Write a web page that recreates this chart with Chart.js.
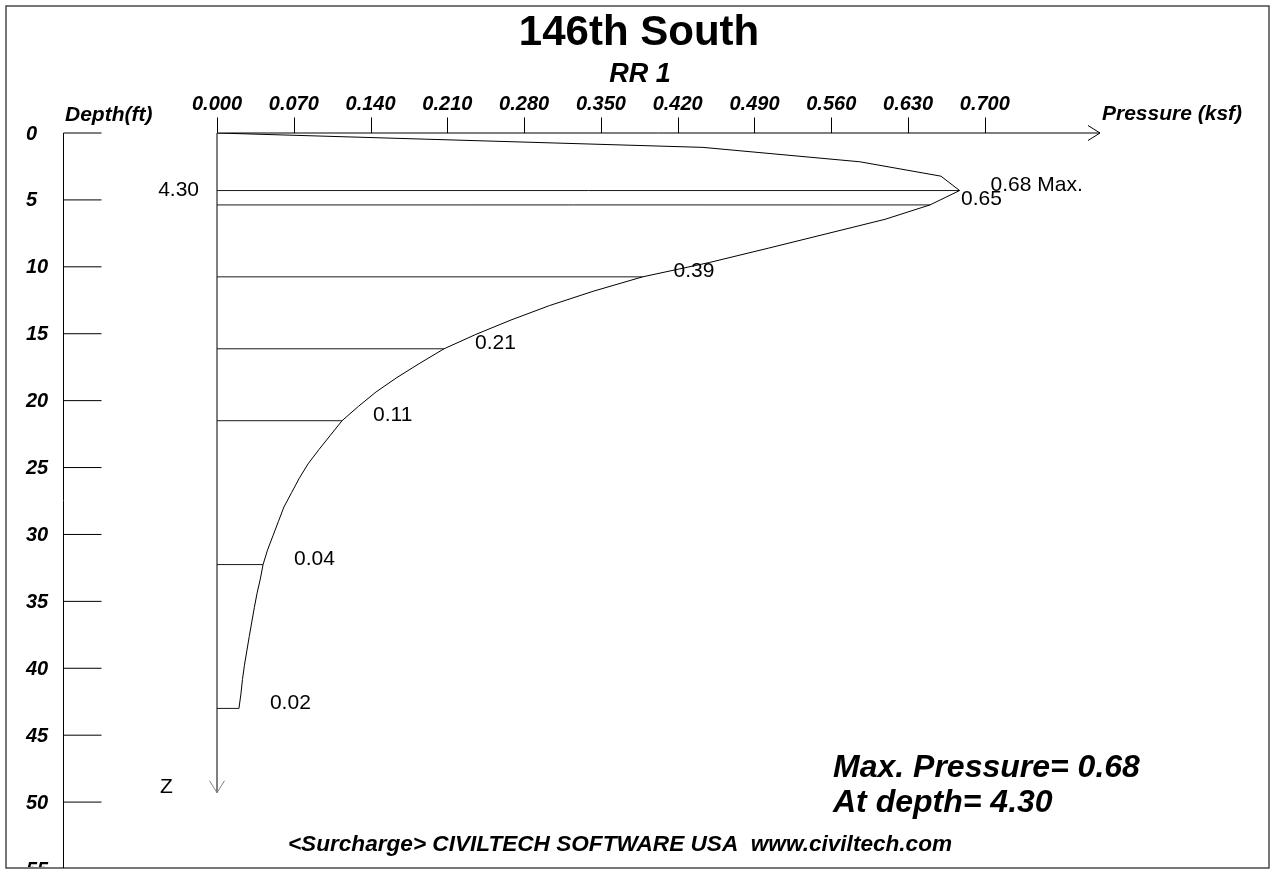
<!DOCTYPE html>
<html>
<head>
<meta charset="utf-8">
<title>146th South - RR 1</title>
<script src="https://cdn.jsdelivr.net/npm/chart.js@4.4.1/dist/chart.umd.min.js"></script>
<style>
  html, body { margin: 0; padding: 0; background: #ffffff; }
  #wrap { position: relative; width: 1271px; height: 871px; }
</style>
</head>
<body>
<div id="wrap"><canvas id="chart"></canvas></div>
<script>
// Depth below the surcharge (ft) at each computed station
const depths = [
  0, 1.075, 2.15, 3.225, 4.30, 5.375, 6.45, 7.525, 8.60, 9.675,
  10.75, 11.825, 12.90, 13.975, 15.05, 16.125, 17.20, 18.275, 19.35, 20.425,
  21.50, 22.575, 23.65, 24.725, 25.80, 26.875, 27.95, 29.025, 30.10, 31.175,
  32.25, 33.325, 34.40, 35.475, 36.55, 37.625, 38.70, 39.775, 40.85, 41.925,
  43.00
];

// Lateral pressure (ksf) at each station
const pressures = [
  0.000, 0.443, 0.586, 0.660, 0.677, 0.650, 0.609, 0.556, 0.503, 0.449,
  0.388, 0.343, 0.303, 0.268, 0.236, 0.207, 0.185, 0.164, 0.145, 0.129,
  0.114, 0.1035, 0.093, 0.083, 0.075, 0.068, 0.061, 0.056, 0.051, 0.046,
  0.042, 0.0395, 0.0365, 0.034, 0.0317, 0.0294, 0.0272, 0.025, 0.0232, 0.0218,
  0.020
];

// Stations that get a leader line and a value label
const markerIndex = [4, 5, 10, 15, 20, 30, 40];

// Axis tick values
const pressureTicks = [0, 0.07, 0.14, 0.21, 0.28, 0.35, 0.42, 0.49, 0.56, 0.63, 0.70];
const depthTicks = [0, 5, 10, 15, 20, 25, 30, 35, 40, 45, 50, 55];

const titleText = '146th South';
const subtitleText = 'RR 1';
const depthAxisTitle = 'Depth(ft)';
const pressureAxisTitle = 'Pressure (ksf)';
const footerText = '<Surcharge> CIVILTECH SOFTWARE USA  www.civiltech.com';

const FAMILY = '"Liberation Sans", Arial, Helvetica, sans-serif';

// peak of the distribution
let maxIdx = 0;
pressures.forEach((p, i) => { if (p > pressures[maxIdx]) maxIdx = i; });

const curveData = depths.map((d, i) => ({ x: pressures[i], y: d }));

const datasets = [{
  label: 'pressure',
  data: curveData,
  showLine: true,
  borderColor: '#000000',
  borderWidth: 1,
  pointRadius: 0,
  tension: 0,
  order: 0
}];
markerIndex.forEach(i => {
  datasets.push({
    label: 'leader ' + depths[i],
    data: [{ x: 0, y: depths[i] }, { x: pressures[i], y: depths[i] }],
    showLine: true,
    borderColor: '#1a1a1a',
    borderWidth: 1,
    pointRadius: 0,
    tension: 0,
    order: 1
  });
});

function line(ctx, x1, y1, x2, y2) {
  ctx.beginPath();
  ctx.moveTo(x1, y1);
  ctx.lineTo(x2, y2);
  ctx.stroke();
}

const diagramPlugin = {
  id: 'diagram',
  beforeDatasetsDraw(chart) {
    const { ctx, chartArea, scales } = chart;
    const xs = scales.x, ys = scales.y;
    const x0 = xs.getPixelForValue(0);
    const y0 = ys.getPixelForValue(0);
    ctx.save();

    // outer frame
    ctx.strokeStyle = '#4a4a4a';
    ctx.lineWidth = 1.5;
    ctx.strokeRect(6, 6, 1263, 862);

    // depth scale on the left
    ctx.strokeStyle = '#000000';
    ctx.lineWidth = 1;
    line(ctx, 63.5, y0, 63.5, 868);
    depthTicks.forEach(d => {
      const y = ys.getPixelForValue(d);
      if (y < 868) line(ctx, 63.5, y, 101.5, y);
    });

    // pressure axis along the top, with arrow
    const axisEnd = chartArea.right;
    line(ctx, x0, y0, axisEnd, y0);
    line(ctx, axisEnd - 12, y0 - 7.5, axisEnd, y0);
    line(ctx, axisEnd - 12, y0 + 7.5, axisEnd, y0);
    pressureTicks.forEach(v => {
      const x = Math.round(xs.getPixelForValue(v)) + 0.5;
      line(ctx, x, y0, x, y0 - 15.5);
    });

    // Z axis downward, with arrow
    const zEnd = ys.getPixelForValue(49.3);
    ctx.strokeStyle = '#7f7f7f';
    ctx.lineWidth = 2;
    line(ctx, x0, y0, x0, zEnd);
    ctx.lineWidth = 1;
    line(ctx, x0 - 7.5, zEnd - 12, x0, zEnd);
    line(ctx, x0 + 7.5, zEnd - 12, x0, zEnd);
    ctx.restore();
  },
  afterDraw(chart) {
    const { ctx, scales } = chart;
    const xs = scales.x, ys = scales.y;
    const x0 = xs.getPixelForValue(0);
    ctx.save();
    ctx.fillStyle = '#000000';
    ctx.textBaseline = 'alphabetic';

    // titles
    ctx.textAlign = 'center';
    ctx.font = 'bold 42px ' + FAMILY;
    ctx.fillText(titleText, 639, 45);
    ctx.font = 'italic bold 27px ' + FAMILY;
    ctx.fillText(subtitleText, 640, 82);

    // pressure tick labels
    ctx.font = 'italic bold 20px ' + FAMILY;
    pressureTicks.forEach(v => {
      ctx.fillText(v.toFixed(3), xs.getPixelForValue(v), 110);
    });

    // axis titles
    ctx.textAlign = 'left';
    ctx.font = 'italic bold 21px ' + FAMILY;
    ctx.fillText(depthAxisTitle, 65, 121);
    ctx.fillText(pressureAxisTitle, 1102, 120);

    // depth tick labels (clipped by the frame)
    ctx.save();
    ctx.beginPath();
    ctx.rect(0, 0, 1271, 867);
    ctx.clip();
    ctx.font = 'italic bold 20px ' + FAMILY;
    ctx.textBaseline = 'middle';
    depthTicks.forEach(d => {
      ctx.fillText(String(d), 26, ys.getPixelForValue(d) + 1);
    });
    ctx.restore();

    // value labels at the leader lines
    ctx.font = '21px ' + FAMILY;
    ctx.textBaseline = 'alphabetic';
    ctx.textAlign = 'left';
    markerIndex.forEach(i => {
      const x = xs.getPixelForValue(pressures[i]) + 31;
      const y = ys.getPixelForValue(depths[i]) + 0.5;
      let txt = pressures[i].toFixed(2);
      if (i === maxIdx) txt += ' Max.';
      ctx.fillText(txt, x, y);
    });

    // depth of the maximum, left of the Z axis
    ctx.textAlign = 'right';
    ctx.fillText(depths[maxIdx].toFixed(2), x0 - 18, ys.getPixelForValue(depths[maxIdx]) + 5);

    // Z axis name
    ctx.textAlign = 'left';
    ctx.fillText('Z', 160, 793);

    // summary
    ctx.font = 'italic bold 32px ' + FAMILY;
    ctx.fillText('Max. Pressure= ' + pressures[maxIdx].toFixed(2), 833, 777);
    ctx.fillText('At depth= ' + depths[maxIdx].toFixed(2), 833, 812);

    // footer
    ctx.textAlign = 'center';
    ctx.font = 'italic bold 22.6px ' + FAMILY;
    ctx.fillText(footerText, 620, 851);
    ctx.restore();
  }
};

new Chart(document.getElementById('chart'), {
  type: 'scatter',
  data: { datasets },
  options: {
    responsive: true,
    maintainAspectRatio: false,
    animation: false,
    devicePixelRatio: 1,
    layout: { padding: { left: 217, right: 171, top: 133, bottom: 2 } },
    plugins: {
      legend: { display: false },
      tooltip: { enabled: false },
      title: { display: false }
    },
    scales: {
      x: { type: 'linear', min: 0, max: 0.805, display: false },
      y: { type: 'linear', min: 0, max: 55, reverse: true, display: false }
    },
    elements: { point: { radius: 0 }, line: { tension: 0 } }
  },
  plugins: [diagramPlugin]
});
</script>
</body>
</html>
